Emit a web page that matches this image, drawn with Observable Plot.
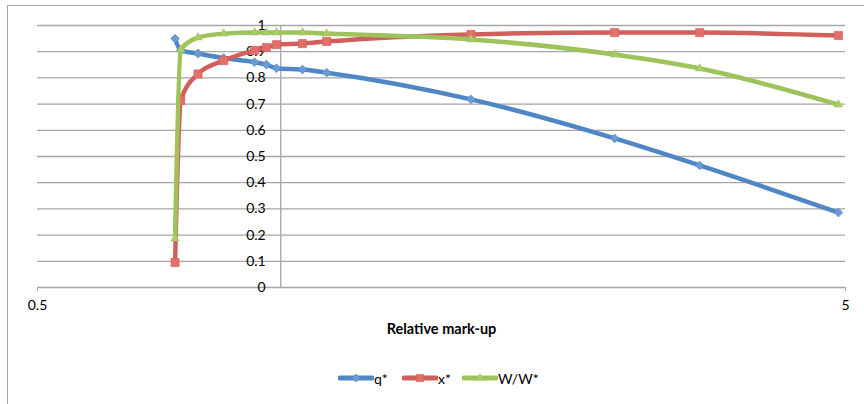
<!DOCTYPE html>
<html>
<head>
<meta charset="utf-8">
<script src="https://cdn.jsdelivr.net/npm/d3@7"></script>
<script src="https://cdn.jsdelivr.net/npm/@observablehq/plot@0.6"></script>
<style>
  html, body { margin: 0; padding: 0; background: #fff; overflow: hidden; }
  body { font-family: Lato, "Open Sans", sans-serif; }
  #wrap { margin: 5px 0 0 7px; border-top: 1px solid #a6a6a6; border-left: 1px solid #a6a6a6; width: 900px; height: 420px; }
  #legend { position: relative; height: 53px; width: 856px; }
  .item { position: absolute; top: 17px; height: 20px; display: flex; align-items: center; font-size: 14px; color: #000; }
  .item svg { display: block; }
</style>
</head>
<body>
<div id="wrap"><div id="chart"></div><div id="legend"></div></div>
<script>
// ---- data ----
const markup = [0.74, 0.752, 0.79, 0.85, 0.928, 0.96, 0.988, 1.064, 1.14, 1.72, 2.59, 3.3, 4.9];
const qStar  = [0.95, 0.905, 0.893, 0.876, 0.86, 0.851, 0.837, 0.832, 0.82, 0.718, 0.569, 0.466, 0.286];
const xStar  = [0.095, 0.714, 0.815, 0.866, 0.905, 0.916, 0.927, 0.931, 0.939, 0.966, 0.973, 0.973, 0.962];
const wRatio = [0.187, 0.908, 0.954, 0.969, 0.973, 0.973, 0.973, 0.973, 0.969, 0.947, 0.889, 0.836, 0.698];
const seriesNames = ["q*", "x*", "W/W*"];
const yTicks = [0, 0.1, 0.2, 0.3, 0.4, 0.5, 0.6, 0.7, 0.8, 0.9, 1];
const xTicks = [0.5, 5];
const xTitle = "Relative mark-up";

// ---- styles ----
const lineColors   = ["#4f86c6", "#d0605b", "#9dc35a"];
const markerColors = ["#6a9bd6", "#e66e69", "#a9cd68"];
const symbols = ["diamond2", "square2", "triangle2"];
const radii = [4, 5.2, 4];
const grid = "#a6a6a6";

const valuesBySeries = [qStar, xStar, wRatio];
const rows = seriesNames.map((s, i) => markup.map((m, j) => ({series: s, markup: m, value: valuesBySeries[i][j]})));

const marks = [
  Plot.ruleY(yTicks, {stroke: grid, strokeWidth: 1.3}),
  Plot.ruleX([1], {y1: 0, y2: 1, stroke: grid, strokeWidth: 1.3}),
  Plot.axisX({ticks: xTicks, tickSize: 4, tickFormat: () => "", stroke: grid, label: null}),
  Plot.text(xTicks, {x: d => d, frameAnchor: "bottom", dy: 22, text: d => String(d), fontSize: 14, fill: "#000"}),
  Plot.text(yTicks, {x: () => 1, y: d => d, text: d => String(d), textAnchor: "end", dx: -15, fontSize: 14, fill: "#000"}),
  Plot.text([xTitle], {frameAnchor: "bottom", dy: 46, text: d => d, fontWeight: "bold", fontSize: 14.5, fill: "#000"})
];
rows.forEach((data, i) => {
  marks.push(Plot.line(data, {x: "markup", y: "value", stroke: lineColors[i], strokeWidth: 4.5, curve: "monotone-x"}));
  marks.push(Plot.dot(data, {x: "markup", y: "value", symbol: () => symbols[i], r: radii[i], fill: markerColors[i], stroke: lineColors[i], strokeWidth: 0.6}));
});

const chart = Plot.plot({
  width: 856,
  height: 345,
  marginLeft: 29,
  marginRight: 19,
  marginTop: 19,
  marginBottom: 64,
  style: {fontFamily: "Lato, 'Open Sans', sans-serif", background: "transparent", overflow: "visible"},
  x: {type: "log", domain: [0.5, 5], axis: null},
  y: {domain: [0, 1], axis: null},
  symbol: {type: "identity"},
  marks
});
document.getElementById("chart").appendChild(chart);

// ---- legend ----
const legend = document.getElementById("legend");
const lefts = [330, 394, 454]; // positions relative to wrap content
seriesNames.forEach((name, i) => {
  const item = document.createElement("div");
  item.className = "item";
  item.style.left = lefts[i] + "px";
  const ns = "http://www.w3.org/2000/svg";
  const svg = document.createElementNS(ns, "svg");
  svg.setAttribute("width", 36); svg.setAttribute("height", 20);
  const ln = document.createElementNS(ns, "line");
  ln.setAttribute("x1", 2); ln.setAttribute("x2", 34); ln.setAttribute("y1", 10); ln.setAttribute("y2", 10);
  ln.setAttribute("stroke", lineColors[i]); ln.setAttribute("stroke-width", 5); ln.setAttribute("stroke-linecap", "round");
  svg.appendChild(ln);
  const symType = [d3.symbolDiamond2, d3.symbolSquare2, d3.symbolTriangle2][i];
  const p = document.createElementNS(ns, "path");
  p.setAttribute("d", d3.symbol(symType, Math.PI * radii[i] * radii[i] * 0.8)());
  p.setAttribute("transform", "translate(18,10)");
  p.setAttribute("fill", markerColors[i]); p.setAttribute("stroke", lineColors[i]); p.setAttribute("stroke-width", 0.6);
  svg.appendChild(p);
  item.appendChild(svg);
  const t = document.createElement("span");
  t.textContent = name;
  item.appendChild(t);
  legend.appendChild(item);
});
</script>
</body>
</html>
